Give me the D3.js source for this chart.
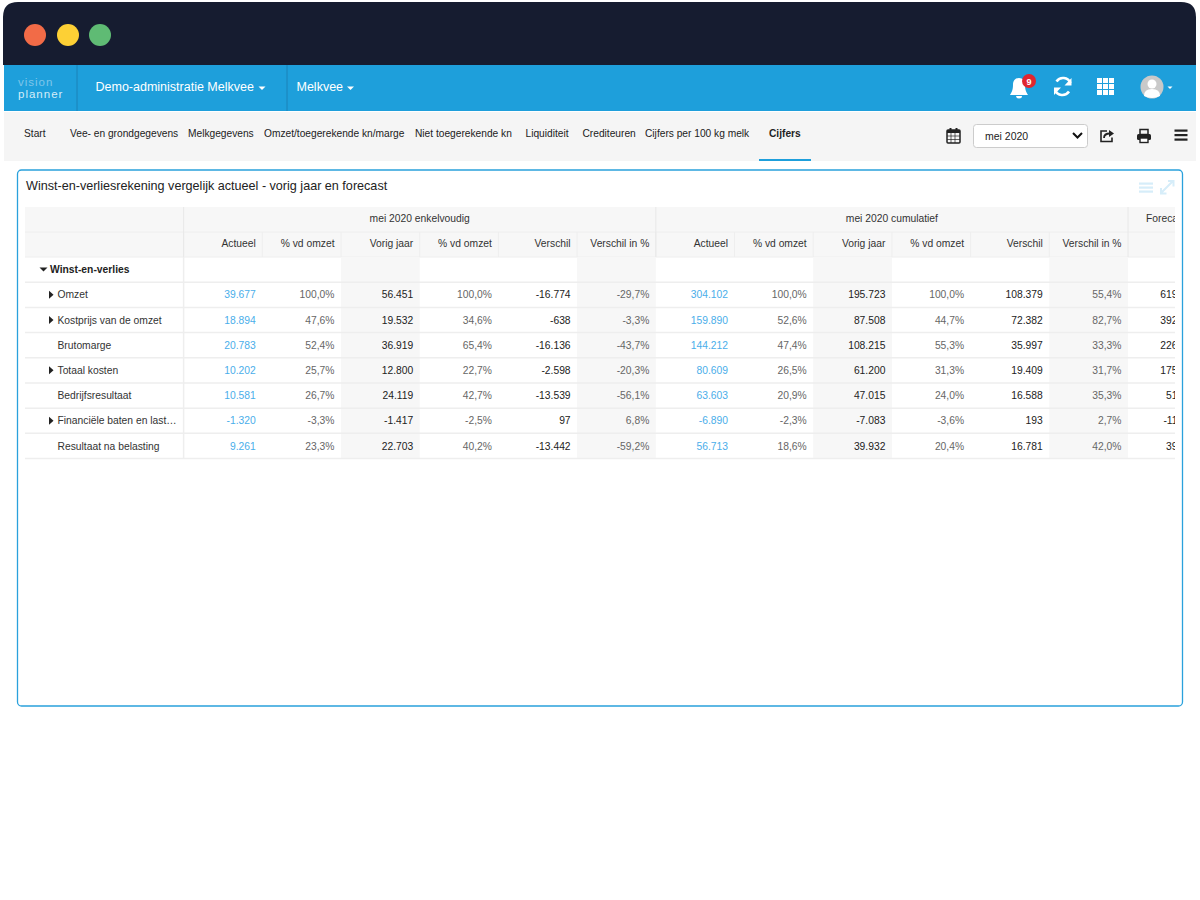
<!DOCTYPE html>
<html>
<head>
<meta charset="utf-8">
<title>Winst-en-verliesrekening</title>
<script src="https://cdn.jsdelivr.net/npm/d3@7"></script>
<style>
  html, body { margin: 0; background: #fff; }
  svg { display: block; }
  text { font-family: "Liberation Sans", Arial, sans-serif; }
</style>
</head>
<body>
<div id="chart"></div>
<script>
// table content
const navItems = ["Start", "Vee- en grondgegevens", "Melkgegevens", "Omzet/toegerekende kn/marge", "Niet toegerekende kn", "Liquiditeit", "Crediteuren", "Cijfers per 100 kg melk", "Cijfers"];
const groupHeaders = ["mei 2020 enkelvoudig", "mei 2020 cumulatief"];
const columnHeaders = ["Actueel", "% vd omzet", "Vorig jaar", "% vd omzet", "Verschil", "Verschil in %"];
const rowLabels = ["Omzet", "Kostprijs van de omzet", "Brutomarge", "Totaal kosten", "Bedrijfsresultaat", "Financiële baten en last…", "Resultaat na belasting"];
const rowHasCaret = [true, true, false, true, false, true, false];

const actueel = [39677, 18894, 20783, 10202, 10581, -1320, 9261];
const actueelPct = [100, 47.6, 52.4, 25.7, 26.7, -3.3, 23.3];
const vorigJaar = [56451, 19532, 36919, 12800, 24119, -1417, 22703];
const vorigPct = [100, 34.6, 65.4, 22.7, 42.7, -2.5, 40.2];
const verschil = [-16774, -638, -16136, -2598, -13539, 97, -13442];
const verschilPct = [-29.7, -3.3, -43.7, -20.3, -56.1, 6.8, -59.2];

const cumActueel = [304102, 159890, 144212, 80609, 63603, -6890, 56713];
const cumActueelPct = [100, 52.6, 47.4, 26.5, 20.9, -2.3, 18.6];
const cumVorigJaar = [195723, 87508, 108215, 61200, 47015, -7083, 39932];
const cumVorigPct = [100, 44.7, 55.3, 31.3, 24.0, -3.6, 20.4];
const cumVerschil = [108379, 72382, 35997, 19409, 16588, 193, 16781];
const cumVerschilPct = [55.4, 82.7, 33.3, 31.7, 35.3, 2.7, 42.0];

// only the leading digits of the forecast column are visible
const forecastVisible = ["619", "392", "226", "175", "51", "-11", "39"];

const columns = [actueel, actueelPct, vorigJaar, vorigPct, verschil, verschilPct,
  cumActueel, cumActueelPct, cumVorigJaar, cumVorigPct, cumVerschil, cumVerschilPct];

const nl = d3.formatLocale({ decimal: ",", thousands: ".", grouping: [3], currency: ["€", ""], minus: "-" });
const fmtInt = nl.format(",d");
const fmtPct = nl.format(",.1f");

const svg = d3.select("#chart").append("svg").attr("width", 1200).attr("height", 900);

const addText = (g, x, y, str, size, fill, anchor, weight) => g.append("text")
  .attr("x", x).attr("y", y).attr("font-size", size).attr("fill", fill)
  .attr("text-anchor", anchor || "start").attr("font-weight", weight || "normal").text(str);

// window chrome
svg.append("path").attr("d", "M3,65 V17 Q3,2 18,2 H1181 Q1196,2 1196,17 V65 Z").attr("fill", "#161c30");
svg.selectAll("circle.dot").data(["#f26b47", "#fdd035", "#5fbb74"]).join("circle")
  .attr("class", "dot").attr("cx", (d, i) => [35, 68, 100][i]).attr("cy", 35).attr("r", 11).attr("fill", d => d);

// blue top bar
svg.append("rect").attr("x", 4).attr("y", 65).attr("width", 1192).attr("height", 46).attr("fill", "#1e9fdb");
[77, 287].forEach(x => svg.append("line").attr("x1", x).attr("x2", x).attr("y1", 65).attr("y2", 111).attr("stroke", "#1a82b8"));
addText(svg, 18, 86, "vision", 11.5, "#7fc6ea").attr("letter-spacing", 1);
addText(svg, 18, 98, "planner", 11.5, "#d5edf8").attr("letter-spacing", 1);
addText(svg, 95.5, 91, "Demo-administratie Melkvee", 12.5, "#fff");
addText(svg, 296.5, 91, "Melkvee", 12.5, "#fff");
const caret = (g, x, y, fill, w) => g.append("path").attr("d", `M${x},${y} h${w} l${-w / 2},${w / 2} Z`).attr("fill", fill);
caret(svg, 258.5, 86.5, "#fff", 7);
caret(svg, 347, 86.5, "#fff", 7);

// bell
svg.append("path").attr("fill", "#fff")
  .attr("d", "M1019,78 c-4,0 -6,3 -6,7 c0,6 -2,8 -3,10 h18 c-1,-2 -3,-4 -3,-10 c0,-4 -2,-7 -6,-7 Z M1016,96 a3,2.5 0 0 0 6,0 Z");
svg.append("circle").attr("cx", 1029).attr("cy", 81).attr("r", 7).attr("fill", "#e0262f");
addText(svg, 1029, 84.5, "9", 9, "#fff", "middle", "bold");
// refresh
svg.append("path").attr("fill", "none").attr("stroke", "#fff").attr("stroke-width", 2.6)
  .attr("d", "M1070.5,83 a8,8 0 0 0 -14,-1.5 M1055,90 a8,8 0 0 0 14,1.5");
svg.append("path").attr("fill", "#fff").attr("d", "M1071.5,78 v7.5 h-7 Z M1054,95 v-7.5 h7 Z");
// apps grid
d3.range(9).forEach(i => svg.append("rect").attr("x", 1097 + (i % 3) * 6).attr("y", 78 + Math.floor(i / 3) * 6)
  .attr("width", 5).attr("height", 5).attr("fill", "#fff"));
// avatar
svg.append("circle").attr("cx", 1152).attr("cy", 87).attr("r", 11.5).attr("fill", "#c9c9c9");
svg.append("circle").attr("cx", 1152).attr("cy", 84).attr("r", 4.5).attr("fill", "#fff");
svg.append("path").attr("d", "M1144,96 q0,-7 8,-7 q8,0 8,7 q-8,4 -16,0 Z").attr("fill", "#fff");
caret(svg, 1167.5, 86.5, "#fff", 5);

// nav bar
svg.append("rect").attr("x", 4).attr("y", 112).attr("width", 1192).attr("height", 49).attr("fill", "#f5f5f5");
const navX = [24, 70, 188, 264, 415, 525.5, 582.5, 645, 769];
navItems.forEach((d, i) => addText(svg, navX[i], 137, d, 10.2, "#222", "start", i === 8 ? "bold" : "normal"));
svg.append("rect").attr("x", 759).attr("y", 159).attr("width", 52).attr("height", 2).attr("fill", "#1e9fdb");

// calendar
const cal = svg.append("g").attr("fill", "#222");
cal.append("rect").attr("x", 947).attr("y", 130).attr("width", 13).attr("height", 13).attr("rx", 1).attr("fill", "none").attr("stroke", "#222").attr("stroke-width", 1.5);
cal.append("rect").attr("x", 947).attr("y", 130).attr("width", 13).attr("height", 3);
[949.5, 955.5].forEach(x => cal.append("rect").attr("x", x).attr("y", 128).attr("width", 2).attr("height", 4));
[951, 955].forEach(x => cal.append("line").attr("x1", x).attr("x2", x).attr("y1", 133).attr("y2", 143).attr("stroke", "#222").attr("stroke-width", 0.7));
[136, 139.5].forEach(y => cal.append("line").attr("x1", 947).attr("x2", 960).attr("y1", y).attr("y2", y).attr("stroke", "#222").attr("stroke-width", 0.7));

// month select
svg.append("rect").attr("x", 973.5).attr("y", 124.5).attr("width", 114).attr("height", 23).attr("rx", 3).attr("fill", "#fff").attr("stroke", "#ccc");
addText(svg, 985, 139.5, "mei 2020", 10.5, "#222");
svg.append("path").attr("d", "M1073,133 l4.5,4.5 l4.5,-4.5").attr("fill", "none").attr("stroke", "#111").attr("stroke-width", 2);

// share
svg.append("path").attr("fill", "none").attr("stroke", "#222").attr("stroke-width", 1.6)
  .attr("d", "M1107,131 h-6 v10.5 h11 v-4");
svg.append("path").attr("fill", "none").attr("stroke", "#222").attr("stroke-width", 1.8)
  .attr("d", "M1104,138 q0,-4.5 6,-4.5");
svg.append("path").attr("fill", "#222").attr("d", "M1109,130 l5,3.5 l-5,3.5 Z");
// print
svg.append("rect").attr("x", 1140).attr("y", 129.5).attr("width", 8).attr("height", 5).attr("fill", "none").attr("stroke", "#222").attr("stroke-width", 1.5);
svg.append("rect").attr("x", 1137).attr("y", 134).attr("width", 14).attr("height", 6).attr("rx", 1.5).attr("fill", "#222");
svg.append("rect").attr("x", 1140).attr("y", 138).attr("width", 8).attr("height", 4.5).attr("fill", "#fff").attr("stroke", "#222").attr("stroke-width", 1.4);
// hamburger
[130.5, 135, 139.5].forEach(y => svg.append("rect").attr("x", 1174.5).attr("y", y - 1).attr("width", 13).attr("height", 2.2).attr("fill", "#222"));

// panel
svg.append("rect").attr("x", 17.5).attr("y", 170).attr("width", 1165).attr("height", 536).attr("rx", 4)
  .attr("fill", "#fff").attr("stroke", "#2aa1dc").attr("stroke-width", 1.3);
addText(svg, 26, 190, "Winst-en-verliesrekening vergelijk actueel - vorig jaar en forecast", 12.6, "#222");
[183.5, 187.5, 191.5].forEach(y => svg.append("rect").attr("x", 1139).attr("y", y - 1).attr("width", 14).attr("height", 2.2).attr("fill", "#d6edf9"));
svg.append("path").attr("fill", "none").attr("stroke", "#d6edf9").attr("stroke-width", 2)
  .attr("d", "M1161,193 l12,-12 M1168,181 h5.5 v5.5 M1161,188 v5.5 h5.5");

// table, clipped at the right edge of the scroll area
svg.append("clipPath").attr("id", "tableClip").append("rect")
  .attr("x", 25).attr("y", 207).attr("width", 1150).attr("height", 254);
const table = svg.append("g").attr("clip-path", "url(#tableClip)");

const x = d3.scaleBand().domain(d3.range(13)).range([183.6, 183.6 + 13 * 78.7]);
const y = d3.scaleBand().domain(d3.range(-1, rowLabels.length)).range([257, 458.5]);
const leftEdge = 25, rightEdge = 1175, headTop = 207, headMid = 232;
const isStriped = i => i % 3 === 2;

// header block
table.append("rect").attr("x", leftEdge).attr("y", headTop).attr("width", rightEdge - leftEdge).attr("height", 50).attr("fill", "#f7f7f7");
table.append("line").attr("x1", leftEdge).attr("x2", rightEdge).attr("y1", headMid).attr("y2", headMid).attr("stroke", "#eee");
table.append("line").attr("x1", leftEdge).attr("x2", rightEdge).attr("y1", 257).attr("y2", 257).attr("stroke", "#eee");

// striped columns
table.selectAll("rect.stripe").data(d3.range(12).filter(isStriped)).join("rect")
  .attr("class", "stripe").attr("x", d => x(d)).attr("y", y(-1)).attr("width", x.bandwidth()).attr("height", 201.5).attr("fill", "#f7f7f7");

// row lines
table.selectAll("line.row").data(d3.range(-1, rowLabels.length)).join("line")
  .attr("class", "row").attr("x1", leftEdge).attr("x2", rightEdge)
  .attr("y1", d => y(d) + y.bandwidth()).attr("y2", d => y(d) + y.bandwidth())
  .attr("stroke", "#eee").attr("stroke-width", 1.5);

// column separators
table.selectAll("line.sep").data(d3.range(12)).join("line")
  .attr("class", "sep").attr("x1", d => x(d)).attr("x2", d => x(d)).attr("y1", headMid).attr("y2", 257)
  .attr("stroke", "#eee");
[0, 6, 12].forEach(c => table.append("line").attr("x1", x(c)).attr("x2", x(c)).attr("y1", headTop).attr("y2", 257).attr("stroke", "#e8e8e8"));
table.append("line").attr("x1", x(0)).attr("x2", x(0)).attr("y1", 257).attr("y2", 459).attr("stroke", "#eee").attr("stroke-width", 1.5);

// header text
groupHeaders.forEach((d, i) => addText(table, (x(i * 6) + x(i * 6 + 6)) / 2, 222, d, 10.3, "#333", "middle"));
addText(table, 1146, 222, "Forecast", 10.3, "#333");
d3.range(12).forEach(c => addText(table, x(c) + x.bandwidth() - 6.5, 247, columnHeaders[c % 6], 10.3, "#333", "end"));

// row labels
caret(table, 39.5, 267.5, "#222", 8);
addText(table, 50, 273, "Winst-en-verlies", 10.3, "#222", "start", "bold");
rowLabels.forEach((d, r) => {
  const cy = y(r) + y.bandwidth() / 2;
  if (rowHasCaret[r]) table.append("path").attr("d", `M49,${cy - 4} l4.5,4 l-4.5,4 Z`).attr("fill", "#222");
  addText(table, 57.5, cy + 3.7, d, 10.3, "#333");
});

// values
columns.forEach((vals, c) => {
  const kind = c % 6;
  const isPct = kind % 2 === 1;
  const fill = kind === 0 ? "#4aaeea" : (isPct ? "#666" : "#222");
  table.selectAll(`text.col${c}`).data(vals).join("text")
    .attr("class", `col${c}`)
    .attr("x", x(c) + x.bandwidth() - 6.5)
    .attr("y", (d, r) => y(r) + y.bandwidth() / 2 + 3.7)
    .attr("text-anchor", "end").attr("font-size", 10.3).attr("fill", fill)
    .text(d => isPct ? fmtPct(d) + "%" : fmtInt(d));
});

// forecast, cut off by the clip
table.selectAll("text.forecast").data(forecastVisible).join("text")
  .attr("class", "forecast").attr("x", 1177.5)
  .attr("y", (d, r) => y(r) + y.bandwidth() / 2 + 3.7)
  .attr("text-anchor", "end").attr("font-size", 10.3).attr("fill", "#222").text(d => d);
</script>
</body>
</html>
